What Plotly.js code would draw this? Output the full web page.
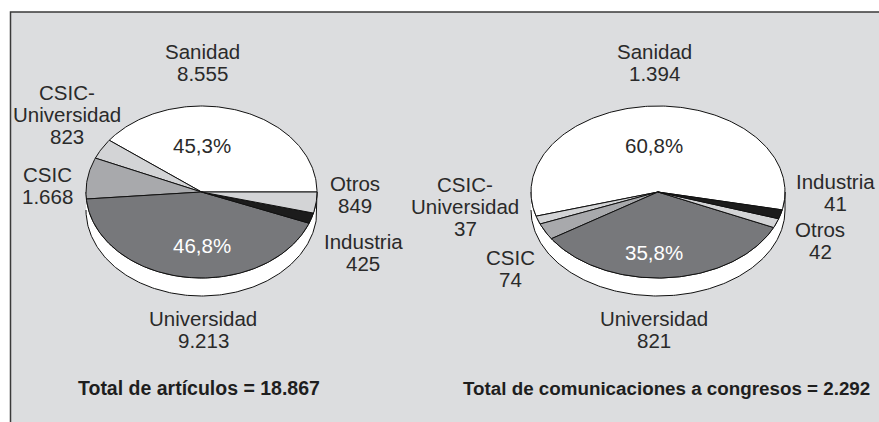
<!DOCTYPE html>
<html><head><meta charset="utf-8">
<script src="https://cdn.plot.ly/plotly-3.0.1.min.js"></script>
<style>html,body{margin:0;padding:0;background:#fff}#chart{width:879px;height:422px}</style>
</head><body><div id="chart"></div>
<script>
// ---------- DATA ----------
const artCategories = ['Sanidad', 'CSIC-Universidad', 'CSIC', 'Universidad', 'Industria', 'Otros'];
const artValues = [8555, 823, 1668, 9213, 425, 849];
const artPctLabels = ['45,3%', null, null, '46,8%', null, null];
const artTotal = 18867;
const artTitle = 'Total de artículos';

const comCategories = ['Sanidad', 'CSIC-Universidad', 'CSIC', 'Universidad', 'Otros', 'Industria'];
const comValues = [1394, 37, 74, 821, 42, 41];
const comPctLabels = ['60,8%', null, null, '35,8%', null, null];
const comTotal = 2292;
const comTitle = 'Total de comunicaciones a congresos';

// ---------- STYLE / LAYOUT ----------
const sliceColors = {
  'Sanidad': '#ffffff', 'CSIC-Universidad': '#d3d4d6', 'CSIC': '#a8a9ac',
  'Universidad': '#77787b', 'Industria': '#1c1c1c', 'Otros': '#d3d4d6'
};
const pctColors = {'Sanidad': '#2a2a2a', 'Universidad': '#ffffff'};
const FONT = 'Liberation Sans, Arial, sans-serif';
const LINE_GAP = 22;

const pies = [
  { cats: artCategories, vals: artValues, pcts: artPctLabels, total: artTotal, title: artTitle,
    cx: 201.5, cy: 192, a: 115.5, b: 86, depth: 18, start: 0,
    labelPos: {'Sanidad': [202, 51], 'CSIC-Universidad': [67, 92], 'CSIC': [47, 174],
               'Otros': [355, 183], 'Industria': [363, 241], 'Universidad': [203, 318]},
    pctPos: {'Sanidad': [202, 145], 'Universidad': [202, 245]},
    titlePos: [199, 388], titleAnchor: 'center', titleSize: 19.5 },
  { cats: comCategories, vals: comValues, pcts: comPctLabels, total: comTotal, title: comTitle,
    cx: 658, cy: 192, a: 127, b: 86, depth: 18, start: -12,
    labelPos: {'Sanidad': [654, 51], 'CSIC-Universidad': [465, 184], 'CSIC': [510, 257],
               'Industria': [835, 181], 'Otros': [820, 229], 'Universidad': [654, 318]},
    pctPos: {'Sanidad': [654, 145], 'Universidad': [654, 252]},
    titlePos: [461, 388], titleAnchor: 'left', titleSize: 18.8 }
];

function fmt(n) { return String(n).replace(/\B(?=(\d{3})+(?!\d))/g, '.'); }
function nameLines(name) { return name === 'CSIC-Universidad' ? ['CSIC-', 'Universidad'] : [name]; }

const traces = [];
const annotations = [];
const rad = Math.PI / 180;

pies.forEach(p => {
  const ex = t => p.cx + p.a * Math.cos(t * rad);
  const ey = (t, d) => p.cy - p.b * Math.sin(t * rad) + (d || 0);
  // side (rim)
  const sx = [], sy = [];
  for (let t = 180; t <= 360; t += 1) { sx.push(ex(t)); sy.push(ey(t)); }
  for (let t = 360; t >= 180; t -= 1) { sx.push(ex(t)); sy.push(ey(t, p.depth)); }
  traces.push({ x: sx, y: sy, type: 'scatter', mode: 'lines', fill: 'toself',
    fillcolor: '#ffffff', line: { color: '#111', width: 1 }, hoverinfo: 'skip', showlegend: false });
  // slices
  const sum = p.vals.reduce((s, v) => s + v, 0);
  let cum = 0;
  p.vals.forEach((v, i) => {
    const t0 = p.start + cum / sum * 360;
    cum += v;
    const t1 = p.start + cum / sum * 360;
    const xs = [p.cx], ys = [p.cy];
    const n = Math.max(2, Math.ceil((t1 - t0) / 1));
    for (let k = 0; k <= n; k++) { const t = t0 + (t1 - t0) * k / n; xs.push(ex(t)); ys.push(ey(t)); }
    xs.push(p.cx); ys.push(p.cy);
    traces.push({ x: xs, y: ys, type: 'scatter', mode: 'lines', fill: 'toself',
      fillcolor: sliceColors[p.cats[i]], line: { color: '#111', width: 1 },
      name: p.cats[i], hoverinfo: 'skip', showlegend: false });
  });
  // labels
  p.cats.forEach((c, i) => {
    const lines = nameLines(c).concat([fmt(p.vals[i])]);
    const pos = p.labelPos[c];
    lines.forEach((ln, j) => annotations.push({ x: pos[0], y: pos[1] + j * LINE_GAP, xref: 'x', yref: 'y',
      text: ln, showarrow: false, xanchor: 'center', yanchor: 'middle',
      font: { family: FONT, size: 20.5, color: '#2a2a2a' } }));
    if (p.pcts[i]) {
      const pp = p.pctPos[c];
      annotations.push({ x: pp[0], y: pp[1], xref: 'x', yref: 'y', text: p.pcts[i], showarrow: false,
        xanchor: 'center', yanchor: 'middle', font: { family: FONT, size: 20.5, color: pctColors[c] } });
    }
  });
  annotations.push({ x: p.titlePos[0], y: p.titlePos[1], xref: 'x', yref: 'y',
    text: '<b>' + p.title + ' = ' + fmt(p.total) + '</b>', showarrow: false,
    xanchor: p.titleAnchor, yanchor: 'middle', font: { family: FONT, size: p.titleSize, color: '#1e1e1e' } });
});

const layout = {
  width: 879, height: 422, margin: { l: 0, r: 0, t: 0, b: 0 },
  paper_bgcolor: '#ffffff', plot_bgcolor: 'rgba(0,0,0,0)',
  xaxis: { range: [0, 879], visible: false, fixedrange: true },
  yaxis: { range: [422, 0], visible: false, fixedrange: true },
  shapes: [{ type: 'rect', xref: 'x', yref: 'y', x0: 10.5, y0: 12, x1: 900, y1: 440,
    fillcolor: '#dcdddf', line: { color: '#3a3a3a', width: 1.5 }, layer: 'below' }],
  annotations: annotations, showlegend: false
};

Plotly.newPlot('chart', traces, layout, { staticPlot: true, displayModeBar: false });
</script></body></html>
